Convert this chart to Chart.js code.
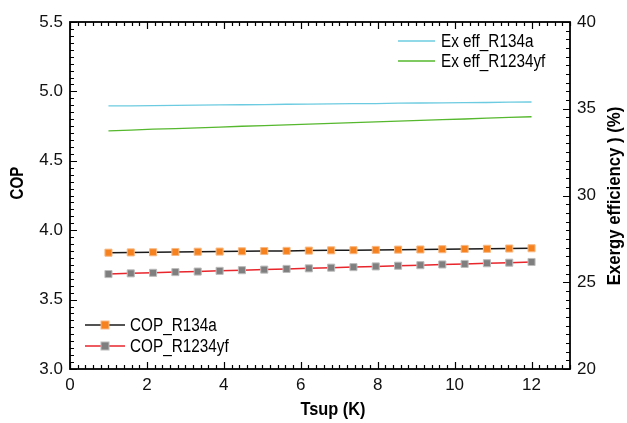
<!DOCTYPE html>
<html>
<head>
<meta charset="utf-8">
<script src="https://cdn.jsdelivr.net/npm/chart.js@4.4.1/dist/chart.umd.min.js"></script>
<style>
  html, body { margin: 0; padding: 0; background: #fff; }
  #wrap { width: 627px; height: 423px; }
</style>
</head>
<body>
<div id="wrap"><canvas id="cop"></canvas></div>
<script>
// superheat degree, K
const tsup = [1, 1.58, 2.16, 2.74, 3.32, 3.89, 4.47, 5.05, 5.63, 6.21,
              6.79, 7.37, 7.95, 8.53, 9.11, 9.68, 10.26, 10.84, 11.42, 12];

// COP (left axis)
const copR134a = [3.838, 3.840, 3.841, 3.843, 3.845, 3.846, 3.848, 3.850, 3.851, 3.853,
                  3.855, 3.856, 3.858, 3.860, 3.861, 3.863, 3.865, 3.866, 3.868, 3.870];
const copR1234yf = [3.684, 3.689, 3.693, 3.698, 3.702, 3.707, 3.712, 3.716, 3.721, 3.725,
                    3.730, 3.734, 3.739, 3.744, 3.748, 3.753, 3.757, 3.762, 3.766, 3.771];

// exergy efficiency, % (right axis)
const exR134a = [35.16, 35.17, 35.18, 35.20, 35.21, 35.22, 35.23, 35.24, 35.26, 35.27,
                 35.28, 35.29, 35.30, 35.32, 35.33, 35.34, 35.35, 35.36, 35.38, 35.39];
const exR1234yf = [33.73, 33.77, 33.82, 33.86, 33.90, 33.94, 33.99, 34.03, 34.07, 34.11,
                   34.16, 34.20, 34.24, 34.29, 34.33, 34.37, 34.41, 34.46, 34.50, 34.54];

const xTicks = [0, 2, 4, 6, 8, 10, 12];
const copTicks = [3.0, 3.5, 4.0, 4.5, 5.0, 5.5];
const exTicks = [20, 25, 30, 35, 40];

const toXY = (ys) => ys.map((y, i) => ({ x: tsup[i], y: y }));

const FONT = "'Liberation Sans', Arial, sans-serif";

// text squeezed horizontally (condensed look)
function narrowText(ctx, text, x, y, font, sx, rot, align) {
  ctx.save();
  ctx.translate(x, y);
  if (rot) ctx.rotate(rot);
  ctx.scale(sx, 1);
  ctx.font = font;
  ctx.textAlign = align || 'center';
  ctx.textBaseline = 'middle';
  ctx.fillStyle = '#000';
  ctx.fillText(text, 0, 0);
  ctx.restore();
}

// ticks pointing into the plot, major + minor, plus frame, titles and legends
const frameTicks = {
  id: 'frameTicks',
  afterDraw(chart) {
    const { ctx, chartArea: a, scales } = chart;
    ctx.save();
    ctx.strokeStyle = '#000';
    ctx.lineWidth = 1.2;
    const xs = scales.x, yl = scales.y, yr = scales.y1;
    ctx.beginPath();
    for (let v = 0; v <= 13.0001; v += 0.2) {
      const px = Math.round(xs.getPixelForValue(v)) + 0.5;
      const major = Math.abs(v / 2 - Math.round(v / 2)) < 1e-6;
      const len = major ? 7 : 4;
      ctx.moveTo(px, a.bottom); ctx.lineTo(px, a.bottom - len);
      ctx.moveTo(px, a.top); ctx.lineTo(px, a.top + len);
    }
    for (let v = 3; v <= 5.5001; v += 0.05) {
      const py = Math.round(yl.getPixelForValue(v)) + 0.5;
      const major = Math.abs(v / 0.5 - Math.round(v / 0.5)) < 1e-6;
      ctx.moveTo(a.left, py); ctx.lineTo(a.left + (major ? 7 : 4), py);
    }
    for (let v = 20; v <= 40.0001; v += 0.5) {
      const py = Math.round(yr.getPixelForValue(v)) + 0.5;
      const major = Math.abs(v / 5 - Math.round(v / 5)) < 1e-6;
      ctx.moveTo(a.right, py); ctx.lineTo(a.right - (major ? 7 : 4), py);
    }
    ctx.stroke();
    ctx.lineWidth = 1.8;
    ctx.strokeRect(a.left, a.top, a.right - a.left, a.bottom - a.top);

    // axis titles
    narrowText(ctx, 'Tsup (K)', 333, 410, 'bold 19px ' + FONT, 0.86);
    narrowText(ctx, 'COP', 18, 183, 'bold 18px ' + FONT, 0.84, -Math.PI / 2);
    narrowText(ctx, 'Exergy efficiency ) (%)', 615, 196, 'bold 18px ' + FONT, 0.93, -Math.PI / 2);

    // legends
    const ds = chart.data.datasets;
    const entry = (d, x0, x1, y, tx) => {
      ctx.strokeStyle = d.borderColor;
      ctx.lineWidth = d.borderWidth;
      ctx.beginPath(); ctx.moveTo(x0, y); ctx.lineTo(x1, y); ctx.stroke();
      if (d.pointRadius > 0) {
        ctx.fillStyle = d.pointBorderColor;
        ctx.fillRect((x0 + x1) / 2 - 4.5, y - 4.5, 9, 9);
        ctx.fillStyle = d.pointBackgroundColor;
        ctx.fillRect((x0 + x1) / 2 - 3.5, y - 3.5, 7, 7);
      }
      narrowText(ctx, d.label, tx, y + 1, '18px ' + FONT, 0.85, 0, 'left');
    };
    entry(ds[2], 398, 435, 41, 441);
    entry(ds[3], 398, 435, 61, 441);
    entry(ds[0], 85, 125, 325, 130);
    entry(ds[1], 85, 125, 346, 130);
    ctx.restore();
  }
};

new Chart(document.getElementById('cop'), {
  type: 'line',
  data: {
    datasets: [
      {
        label: 'COP_R134a', data: toXY(copR134a), yAxisID: 'y',
        borderColor: '#1a1a1a', borderWidth: 1.5,
        pointStyle: 'rect', pointRadius: 5,
        pointBackgroundColor: '#f5821f', pointBorderColor: '#f8b883', pointBorderWidth: 1
      },
      {
        label: 'COP_R1234yf', data: toXY(copR1234yf), yAxisID: 'y',
        borderColor: '#e8262c', borderWidth: 1.5,
        pointStyle: 'rect', pointRadius: 5,
        pointBackgroundColor: '#7f7f7f', pointBorderColor: '#bcbcbc', pointBorderWidth: 1
      },
      {
        label: 'Ex eff_R134a', data: toXY(exR134a), yAxisID: 'y1',
        borderColor: '#6ccbe0', borderWidth: 1.3, pointRadius: 0
      },
      {
        label: 'Ex eff_R1234yf', data: toXY(exR1234yf), yAxisID: 'y1',
        borderColor: '#56b82e', borderWidth: 1.3, pointRadius: 0
      }
    ]
  },
  options: {
    responsive: true,
    maintainAspectRatio: false,
    animation: false,
    layout: { padding: { top: 22, left: 0, right: 0, bottom: 0 } },
    plugins: { legend: { display: false }, tooltip: { enabled: false } },
    scales: {
      x: {
        type: 'linear', min: 0, max: 13,
        afterFit: (s) => { s.height = 54; },
        afterBuildTicks: (s) => { s.ticks = xTicks.map(v => ({ value: v })); },
        ticks: { padding: 6, color: '#111', font: { family: FONT, size: 17 } },
        grid: { display: false, drawTicks: false },
        border: { display: false }
      },
      y: {
        position: 'left', min: 3, max: 5.5,
        afterFit: (s) => { s.width = 70; },
        afterBuildTicks: (s) => { s.ticks = copTicks.map(v => ({ value: v })); },
        ticks: { padding: 7, color: '#111', font: { family: FONT, size: 17 },
                 callback: (v) => v.toFixed(1) },
        grid: { display: false, drawTicks: false },
        border: { display: false }
      },
      y1: {
        position: 'right', min: 20, max: 40,
        afterFit: (s) => { s.width = 57; },
        afterBuildTicks: (s) => { s.ticks = exTicks.map(v => ({ value: v })); },
        ticks: { padding: 7, color: '#111', font: { family: FONT, size: 17 } },
        grid: { display: false, drawTicks: false },
        border: { display: false }
      }
    }
  },
  plugins: [frameTicks]
});
</script>
</body>
</html>
